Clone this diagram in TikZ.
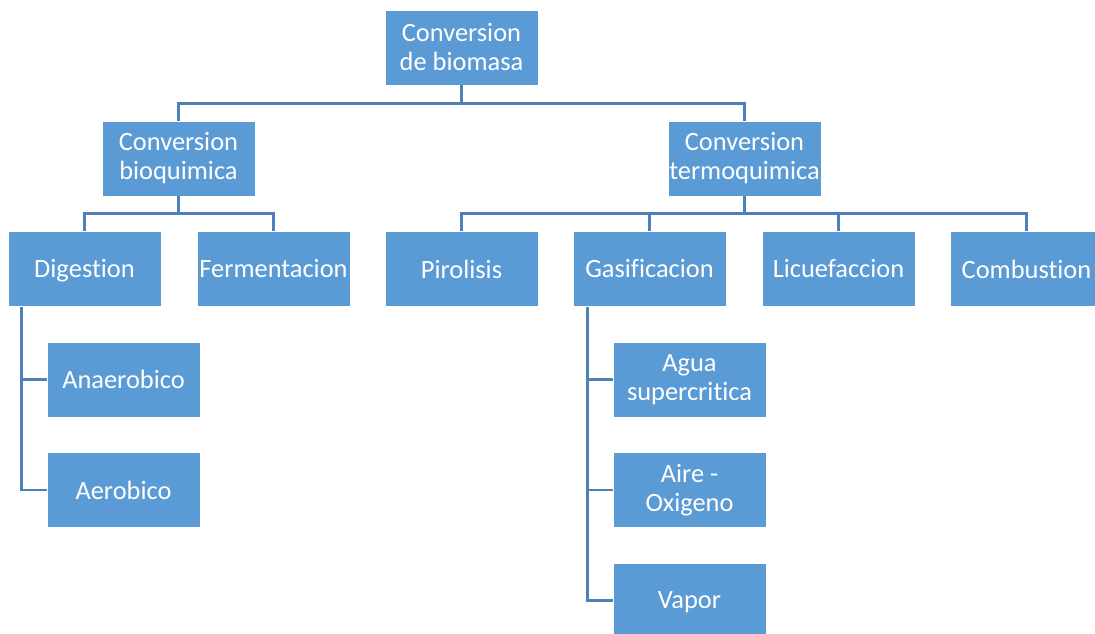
\documentclass[tikz,border=0pt]{standalone}
\usepackage{fontspec}
\setmainfont[Ligatures={NoCommon,NoRare,NoDiscretionary}]{Carlito}
\definecolor{boxfill}{HTML}{5B9BD5}
\definecolor{linecol}{HTML}{4E80B9}
\begin{document}
\begin{tikzpicture}[x=1pt,y=1pt,
  box/.style={rectangle, fill=boxfill, draw=white, line width=0.6pt,
    minimum width=153pt, minimum height=75pt, inner sep=0pt,
    text=white, align=center, font=\fontsize{26.4}{29}\selectfont},
  conn/.style={draw=linecol, line width=2.5pt}]
\useasboundingbox (0,0) rectangle (1095,-634);
\begin{scope}
\clip (0,0) rectangle (1095,-634);
\node[box] (top) at (461.5,-47.5) {Conversion\\de biomasa};
\node[box] (bio) at (178.5,-158.5) {Conversion\\bioquimica};
\node[box] (termo) at (744.5,-158.5) {Conversion\\termoquimica};
\node[box] (dig) at (84.5,-269) {Di\smash{g}es{}tion};
\node[box] (ferm) at (273.5,-269) {Fermentacion};
\node[box] (piro) at (461.5,-269) {Pirolisis};
\node[box] (gasi) at (649.5,-269) {Gasificacion};
\node[box] (licu) at (838.5,-269) {Licuefaccion};
\node[box] (comb) at (1026.5,-269) {Combustion};
\node[box] (anae) at (123.5,-379.5) {Anaerobico};
\node[box] (aero) at (123.5,-490) {Aerobico};
\node[box] (agua) at (689.5,-379.5) {Agua\\supercritica};
\node[box] (aire) at (689.5,-490) {Aire -\\Oxigeno};
\node[box] (vapor) at (689.5,-600.5) {Va\smash{p}or};
% connectors
\draw[conn] (top.south) -- ++(0,-18) -| (bio.north);
\draw[conn] (top.south) -- ++(0,-18) -| (termo.north);
\draw[conn] (bio.south) -- ++(0,-17) -| (dig.north);
\draw[conn] (bio.south) -- ++(0,-17) -| (ferm.north);
\draw[conn] (termo.south) -- ++(0,-17) -| (piro.north);
\draw[conn] (termo.south) -- ++(0,-17) -| (gasi.north);
\draw[conn] (termo.south) -- ++(0,-17) -| (licu.north);
\draw[conn] (termo.south) -- ++(0,-17) -| (comb.north);
\draw[conn] ([xshift=14pt]dig.south west) |- (anae.west);
\draw[conn] ([xshift=14pt]dig.south west) |- (aero.west);
\draw[conn] ([xshift=15pt]gasi.south west) |- (agua.west);
\draw[conn] ([xshift=15pt]gasi.south west) |- (aire.west);
\draw[conn] ([xshift=15pt]gasi.south west) |- (vapor.west);
\end{scope}
\end{tikzpicture}
\end{document}
